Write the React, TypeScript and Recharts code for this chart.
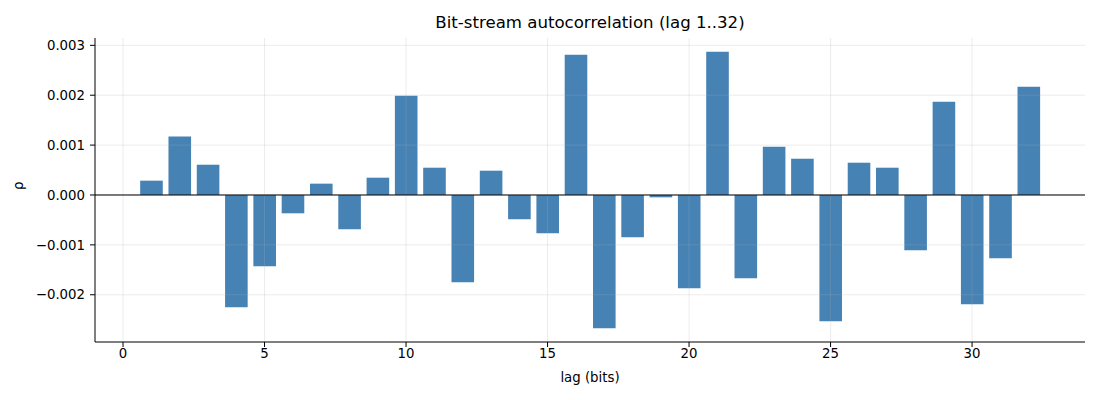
import { Bar, BarChart, ReferenceLine, XAxis, YAxis } from 'recharts';

// lag 1..32
const lags = [1, 2, 3, 4, 5, 6, 7, 8, 9, 10, 11, 12, 13, 14, 15, 16, 17, 18, 19, 20, 21, 22, 23, 24, 25, 26, 27, 28, 29, 30, 31, 32];
const rho = [
  0.000287, 0.00117, 0.000607, -0.00225, -0.00143, -0.000367, 0.000227, -0.000687,
  0.000347, 0.00199, 0.000547, -0.00175, 0.000487, -0.000487, -0.000767, 0.00281,
  -0.00267, -0.000847, -0.000047, -0.00187, 0.00287, -0.00167, 0.000967, 0.000727,
  -0.00253, 0.000647, 0.000547, -0.00111, 0.00187, -0.00219, -0.00127, 0.00217,
];
const xTicks = [0, 5, 10, 15, 20, 25, 30];
const yTicks = [-0.002, -0.001, 0, 0.001, 0.002, 0.003];

const data = lags.map((lag, i) => ({ lag, rho: rho[i] }));

const fmtY = (v: number) => (v < 0 ? '\u2212' : '') + Math.abs(v).toFixed(3);

export default function App() {
  return (
    <div style={{ position: 'absolute', left: 0, top: 0, width: 1100, height: 400, fontFamily: '"DejaVu Sans", sans-serif', background: '#fff' }}>
      <div style={{ position: 'absolute', left: 95, width: 990, top: 13, textAlign: 'center', fontSize: 16.6, color: '#000' }}>
        Bit-stream autocorrelation (lag 1..32)
      </div>
      <BarChart width={1100} height={400} data={data} margin={{ top: 38, right: 15, bottom: 0, left: 0 }}>
        <XAxis
          dataKey="lag"
          type="number"
          domain={[-0.99, 33.99]}
          ticks={xTicks}
          allowDataOverflow
          height={58}
          tick={{ fill: '#000', fontSize: 13.3 }}
          tickSize={5}
          tickMargin={2}
          stroke="#000"
          label={{ value: 'lag (bits)', position: 'insideBottom', offset: 18, fill: '#000', fontSize: 13.3 }}
        />
        <YAxis
          type="number"
          domain={[-0.002947, 0.003147]}
          ticks={yTicks}
          allowDataOverflow
          width={95}
          tickFormatter={fmtY}
          tick={{ fill: '#000', fontSize: 13.3 }}
          tickSize={5}
          tickMargin={5}
          stroke="#000"
          label={{ value: 'ρ', angle: -90, position: 'insideLeft', offset: 18, fill: '#000', fontSize: 13.3 }}
        />
        <Bar dataKey="rho" fill="#4682b4" barSize={22.6} isAnimationActive={false} />
        {xTicks.map((t) => (
          <ReferenceLine key={'gx' + t} x={t} stroke="#b0b0b0" strokeOpacity={0.3} strokeWidth={0.8} />
        ))}
        {yTicks.map((t) => (
          <ReferenceLine key={'gy' + t} y={t} stroke="#b0b0b0" strokeOpacity={0.3} strokeWidth={0.8} />
        ))}
        <ReferenceLine y={0} stroke="#000" strokeWidth={1} />
      </BarChart>
    </div>
  );
}
